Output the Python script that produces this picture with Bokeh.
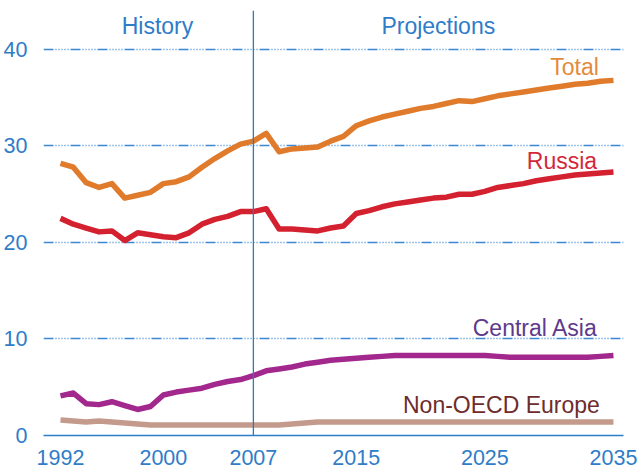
from bokeh.plotting import figure
from bokeh.models import Range1d, FixedTicker, Span
from bokeh.core.properties import value
from bokeh.embed import file_html
from bokeh.resources import INLINE

years = list(range(1992, 2036))
total = [28.2, 27.8, 26.2, 25.7, 26.1, 24.6, 24.9, 25.2, 26.1, 26.3,
         26.8, 27.8, 28.7, 29.5, 30.2, 30.5, 31.3, 29.4, 29.7, 29.8,
         29.9, 30.5, 31.0, 32.1, 32.6, 33.0, 33.3, 33.6, 33.9, 34.1,
         34.4, 34.7, 34.6, 34.9, 35.2, 35.4, 35.6, 35.8, 36.0, 36.2,
         36.4, 36.5, 36.7, 36.8]
russia = [22.5, 21.9, 21.5, 21.1, 21.2, 20.2, 21.0, 20.8, 20.6, 20.5,
          21.0, 21.9, 22.4, 22.7, 23.2, 23.2, 23.5, 21.4, 21.4, 21.3,
          21.2, 21.5, 21.7, 23.0, 23.3, 23.7, 24.0, 24.2, 24.4, 24.6,
          24.7, 25.0, 25.0, 25.3, 25.7, 25.9, 26.1, 26.4, 26.6, 26.8,
          27.0, 27.1, 27.2, 27.3]
central_asia = [4.1, 4.4, 3.3, 3.2, 3.5, 3.1, 2.7, 3.0, 4.2, 4.5,
                4.7, 4.9, 5.3, 5.6, 5.8, 6.2, 6.7, 6.9, 7.1, 7.4,
                7.6, 7.8, 7.9, 8.0, 8.1, 8.2, 8.3, 8.3, 8.3, 8.3,
                8.3, 8.3, 8.3, 8.3, 8.2, 8.1, 8.1, 8.1, 8.1, 8.1,
                8.1, 8.1, 8.2, 8.3]
non_oecd_europe = [1.6, 1.5, 1.4, 1.5, 1.4, 1.3, 1.2, 1.1, 1.1, 1.1,
                   1.1, 1.1, 1.1, 1.1, 1.1, 1.1, 1.1, 1.1, 1.2, 1.3,
                   1.4, 1.4, 1.4, 1.4, 1.4, 1.4, 1.4, 1.4, 1.4, 1.4,
                   1.4, 1.4, 1.4, 1.4, 1.4, 1.4, 1.4, 1.4, 1.4, 1.4,
                   1.4, 1.4, 1.4, 1.4]
x_ticks = [1992, 2000, 2007, 2015, 2025, 2035]
y_ticks = [0, 10, 20, 30, 40]
split_year = 2007
series_names = ["Total", "Russia", "Central Asia", "Non-OECD Europe"]

FONT = "Liberation Sans"
BLUE = "#2F7CC8"
GRID = "#3C88D2"

p = figure(width=642, height=469, output_backend="svg", toolbar_location=None,
           x_range=Range1d(1990.68, 2035.78), y_range=Range1d(0, 44.04),
           min_border_left=43, min_border_right=19, min_border_top=10,
           min_border_bottom=34)
p.outline_line_color = None
p.background_fill_color = "white"

# axes
p.xaxis.ticker = FixedTicker(ticks=x_ticks)
p.yaxis.ticker = FixedTicker(ticks=y_ticks)
p.xaxis.axis_line_color = BLUE
p.xaxis.axis_line_width = 1.3
p.xaxis.major_tick_line_color = None
p.xaxis.minor_tick_line_color = None
p.xaxis.major_label_standoff = 8
p.yaxis.axis_line_color = None
p.yaxis.major_tick_line_color = None
p.yaxis.minor_tick_line_color = None
p.yaxis.major_label_standoff = 10
for ax in (p.xaxis, p.yaxis):
    ax.major_label_text_font = FONT
    ax.major_label_text_font_size = "21.5px"
    ax.major_label_text_color = BLUE

p.xgrid.grid_line_color = None
p.ygrid.grid_line_color = GRID
p.ygrid.grid_line_width = 1.3
p.ygrid.grid_line_dash = "10 2 1 2 1 2 1 2 1 2 1 2"

p.add_layout(Span(location=split_year, dimension="height",
                  line_color="#2F78C0", line_width=1.3))

# series
p.line(years, non_oecd_europe, line_color="#C49A8C", line_width=5.5, line_join="round")
p.line(years, central_asia, line_color="#A3288E", line_width=5.5, line_join="round")
p.line(years, russia, line_color="#D42130", line_width=5.5, line_join="round")
p.line(years, total, line_color="#E07B2B", line_width=5.5, line_join="round")

# series labels
label_specs = [
    (series_names[0], 2033.86, 38.15, "#E38B3D"),
    (series_names[1], 2033.73, 28.4, "#D3283C"),
    (series_names[2], 2033.8, 11.1, "#5E3A8C"),
    (series_names[3], 2033.94, 3.15, "#6E2C2C"),
]
for name, lx, ly, col in label_specs:
    p.text(x=[lx], y=[ly], text=[name], text_align="right",
           text_baseline="alphabetic", text_color=col,
           text_font=value(FONT), text_font_size="23px")

# period labels
p.text(x=[1999.54], y=[42.45], text=["History"], text_align="center",
       text_baseline="alphabetic", text_color=BLUE,
       text_font=value(FONT), text_font_size="23px")
p.text(x=[2021.38], y=[42.45], text=["Projections"], text_align="center",
       text_baseline="alphabetic", text_color=BLUE,
       text_font=value(FONT), text_font_size="23px")

open("out.html", "w").write(file_html(p, INLINE))
